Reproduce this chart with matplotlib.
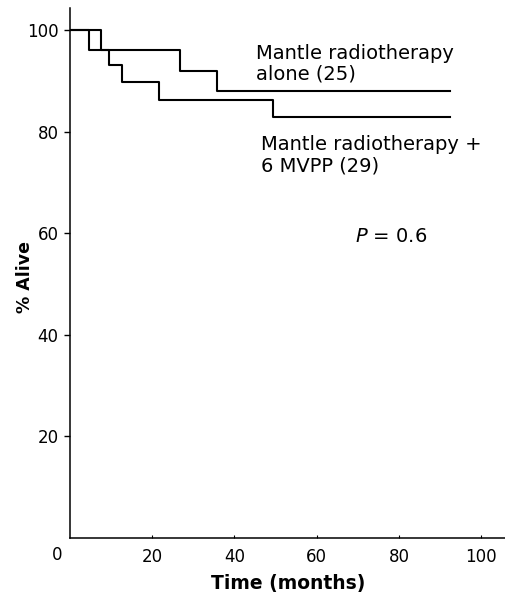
import matplotlib
matplotlib.use("Agg")
import matplotlib.pyplot as plt

# Data
alone_t = [0, 4.7, 26.8, 35.7, 92.4]
alone_s = [100, 96.0, 92.0, 88.0, 88.0]
mvpp_t = [0, 7.7, 9.6, 12.6, 21.8, 49.5, 92.4]
mvpp_s = [100, 96.0, 93.1, 89.7, 86.2, 82.8, 82.8]
x_ticks = [20, 40, 60, 80, 100]
y_ticks = [20, 40, 60, 80, 100]

plt.rcParams['font.family'] = ['DejaVu Sans']
plt.rcParams['mathtext.fontset'] = 'dejavusans'

fig = plt.figure(figsize=(5.06, 5.96), dpi=100)
ax = fig.add_axes([69.75 / 506, 58.5 / 596, (506 - 69.75) / 506, (537.5 - 8.3) / 596])

ax.step(alone_t, alone_s, where='post', color='black', lw=1.5)
ax.step(mvpp_t, mvpp_s, where='post', color='black', lw=1.5)

ax.set_xlim(0, 106)
ax.set_ylim(0, 104.3)
ax.spines['top'].set_visible(False)
ax.spines['right'].set_visible(False)
for s in ('left', 'bottom'):
    ax.spines[s].set_linewidth(1.1)

ax.set_xticks(x_ticks)
ax.set_yticks(y_ticks)
ax.tick_params(axis='x', direction='in', length=2.5, width=0.8, pad=7.5, labelsize=12)
ax.tick_params(axis='y', direction='out', length=4, width=1.0, pad=4, labelsize=12)

ax.text(-3.1, -3.4, '0', ha='center', va='center', fontsize=12, clip_on=False)

ax.set_xlabel('Time (months)', fontsize=13.5, fontweight='bold', labelpad=6)
ax.set_ylabel('% Alive', fontsize=12.5, fontweight='bold')
ax.yaxis.set_label_coords((34 - 69.75) / 436.25, (537.5 - 277) / 529.2)

ax.text(45.3, 94.4, 'Mantle radiotherapy', fontsize=14, va='baseline', ha='left')
ax.text(45.3, 90.3, 'alone (25)', fontsize=14, va='baseline', ha='left')
ax.text(46.4, 76.4, 'Mantle radiotherapy +', fontsize=14, va='baseline', ha='left')
ax.text(46.4, 72.1, '6 MVPP (29)', fontsize=14, va='baseline', ha='left')
ax.text(69.3, 58.3, r'$P$ = 0.6', fontsize=14, va='baseline', ha='left')

fig.savefig('out.png', dpi=100)
